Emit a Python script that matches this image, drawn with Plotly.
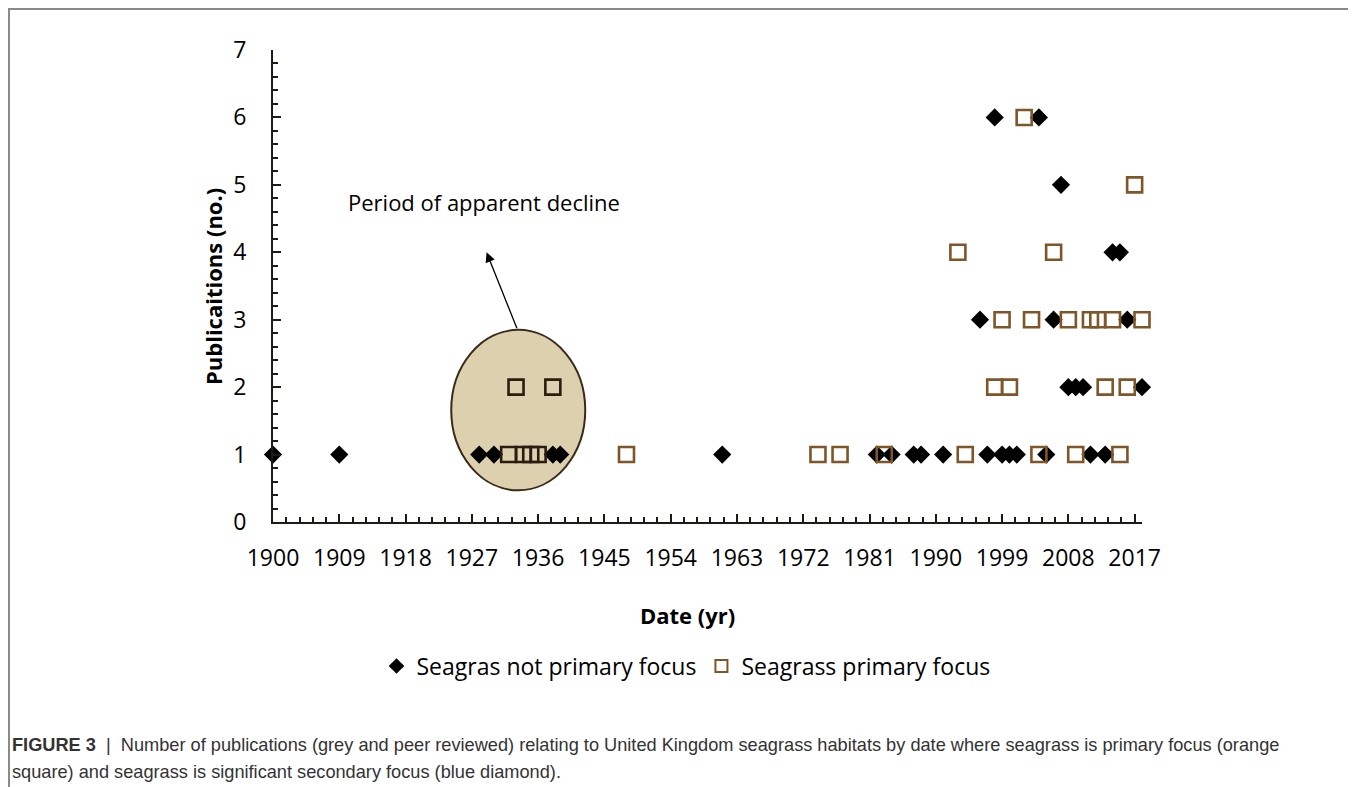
import plotly.graph_objects as go

# ---- data ----
# Seagrass NOT primary focus (black diamonds)
not_focus_years = [1998, 2004,
                   2007,
                   2014, 2015,
                   1996, 2006, 2016,
                   2008, 2009, 2010, 2018,
                   1900, 1909, 1928, 1930, 1938, 1939, 1961, 1982, 1984, 1987,
                   1988, 1991, 1997, 1999, 2000, 2001, 2005, 2011, 2013]
not_focus_counts = [6, 6,
                    5,
                    4, 4,
                    3, 3, 3,
                    2, 2, 2, 2,
                    1, 1, 1, 1, 1, 1, 1, 1, 1, 1,
                    1, 1, 1, 1, 1, 1, 1, 1, 1]

# Seagrass primary focus (brown open squares)
focus_years = [2002,
               2017,
               1993, 2006,
               1999, 2003, 2008, 2011, 2012, 2014, 2018,
               1933, 1938, 1998, 2000, 2013, 2016,
               1932, 1934, 1935, 1936, 1948, 1974, 1977, 1983, 1994, 2004, 2009, 2015]
focus_counts = [6,
                5,
                4, 4,
                3, 3, 3, 3, 3, 3, 3,
                2, 2, 2, 2, 2, 2,
                1, 1, 1, 1, 1, 1, 1, 1, 1, 1, 1, 1]

x_tickvals = [1900, 1909, 1918, 1927, 1936, 1945, 1954, 1963, 1972, 1981, 1990, 1999, 2008, 2017]
y_tickvals = [0, 1, 2, 3, 4, 5, 6, 7]

# decline period (ellipse extent in data units) and annotation
decline_x = [1924.2, 1942.4]
decline_y = [0.47, 2.85]
decline_label = "Period of apparent decline"

caption_1 = ("<b>FIGURE 3</b>  |  Number of publications (grey and peer reviewed) relating to United Kingdom "
             "seagrass habitats by date where seagrass is primary focus (orange")
caption_2 = "square) and seagrass is significant secondary focus (blue diamond)."

# ---- layout geometry (page pixels; the page body adds an 8px offset) ----
OFF = 8
W, H = 1356 - OFF, 787 - OFF
L, R, T, B = 273, 1142, 50, 522          # plot area in page pixels
pw, ph = R - L, B - T


def px(x):
    return (x - L) / pw


def py(y):
    return (B - y) / ph


FONT = "Open Sans"
AXIS_COL = "#1e1a16"
BROWN = "#7f5628"

square_colors = ["#2a1c10" if decline_x[0] < yv < decline_x[1] else BROWN for yv in focus_years]

fig = go.Figure()

fig.add_trace(go.Scatter(
    x=not_focus_years, y=not_focus_counts, mode="markers",
    name="Seagras not primary focus", cliponaxis=False,
    marker=dict(symbol="diamond", size=14, color="black", line=dict(width=0)),
))
fig.add_trace(go.Scatter(
    x=focus_years, y=focus_counts, mode="markers",
    name="Seagrass primary focus", cliponaxis=False,
    marker=dict(symbol="square-open", size=15, color=square_colors, line=dict(width=2.6)),
))

# ellipse highlighting the decline period
fig.add_shape(type="circle", xref="x", yref="y",
              x0=decline_x[0], x1=decline_x[1], y0=decline_y[0], y1=decline_y[1],
              fillcolor="#ddd0ae", line=dict(color="#3a2a1a", width=2), layer="below")

# arrow from ellipse to label
fig.add_annotation(x=1929.0, y=4.0, ax=1933.2, ay=decline_y[1], xref="x", yref="y",
                   axref="x", ayref="y", text="", showarrow=True,
                   arrowhead=2, arrowsize=1.5, arrowwidth=1.3, arrowcolor="black")
fig.add_annotation(x=1928.6, y=4.75, xref="x", yref="y", text=decline_label,
                   xanchor="center", yanchor="middle",
                   showarrow=False, font=dict(family=FONT, size=22, color="black"))

# axis titles
fig.add_annotation(x=px(687), y=py(615), xref="paper", yref="paper", text="<b>Date (yr)</b>",
                   xanchor="center", yanchor="middle",
                   showarrow=False, font=dict(family=FONT, size=22, color="black"))
fig.add_annotation(x=px(213), y=py(287), xref="paper", yref="paper", text="<b>Publicaitions (no.)</b>",
                   xanchor="center", yanchor="middle",
                   textangle=-90, showarrow=False, font=dict(family=FONT, size=22, color="black"))

# caption
fig.add_annotation(x=px(10), y=py(745), xref="paper", yref="paper", xanchor="left", yanchor="middle",
                   text=caption_1, showarrow=False, align="left",
                   font=dict(family="Liberation Sans", size=18.2, color="#333333"))
fig.add_annotation(x=px(10), y=py(772), xref="paper", yref="paper", xanchor="left", yanchor="middle",
                   text=caption_2, showarrow=False, align="left",
                   font=dict(family="Liberation Sans", size=18.2, color="#333333"))

# frame
fig.add_shape(type="rect", xref="paper", yref="paper",
              x0=px(9), x1=px(1354), y0=py(830), y1=py(9),
              line=dict(color="#8a8a8a", width=2), fillcolor="rgba(0,0,0,0)", layer="below")

fig.update_xaxes(range=[1900, 2018], tickvals=x_tickvals, ticks="inside", ticklen=8, tickwidth=1.5,
                 tickcolor=AXIS_COL, showline=True, linecolor=AXIS_COL, linewidth=2,
                 showgrid=False, zeroline=False, ticklabelstandoff=14,
                 tickfont=dict(family=FONT, size=23, color="black"),
                 minor=dict(tick0=1900, dtick=1.8, ticks="inside", ticklen=5, tickwidth=1.5,
                            tickcolor=AXIS_COL, showgrid=False))
fig.update_yaxes(range=[0, 7], tickvals=y_tickvals, ticks="inside", ticklen=8, tickwidth=1.5,
                 tickcolor=AXIS_COL, showline=True, linecolor=AXIS_COL, linewidth=2,
                 showgrid=False, zeroline=False, ticklabelstandoff=20,
                 tickfont=dict(family=FONT, size=23, color="black"),
                 minor=dict(tick0=0, dtick=0.2, ticks="inside", ticklen=5, tickwidth=1.5,
                            tickcolor=AXIS_COL, showgrid=False))

fig.update_layout(
    width=W, height=H,
    margin=dict(l=L - OFF, r=W - (R - OFF), t=T - OFF, b=H - (B - OFF), pad=0),
    paper_bgcolor="white", plot_bgcolor="white",
    font=dict(family=FONT, color="black"),
    showlegend=True,
    legend=dict(orientation="h", x=px(686), y=py(666), xanchor="center", yanchor="middle",
                font=dict(family=FONT, size=23, color="black"), itemsizing="constant",
                bgcolor="rgba(0,0,0,0)"),
)

fig.write_html("out.html")
